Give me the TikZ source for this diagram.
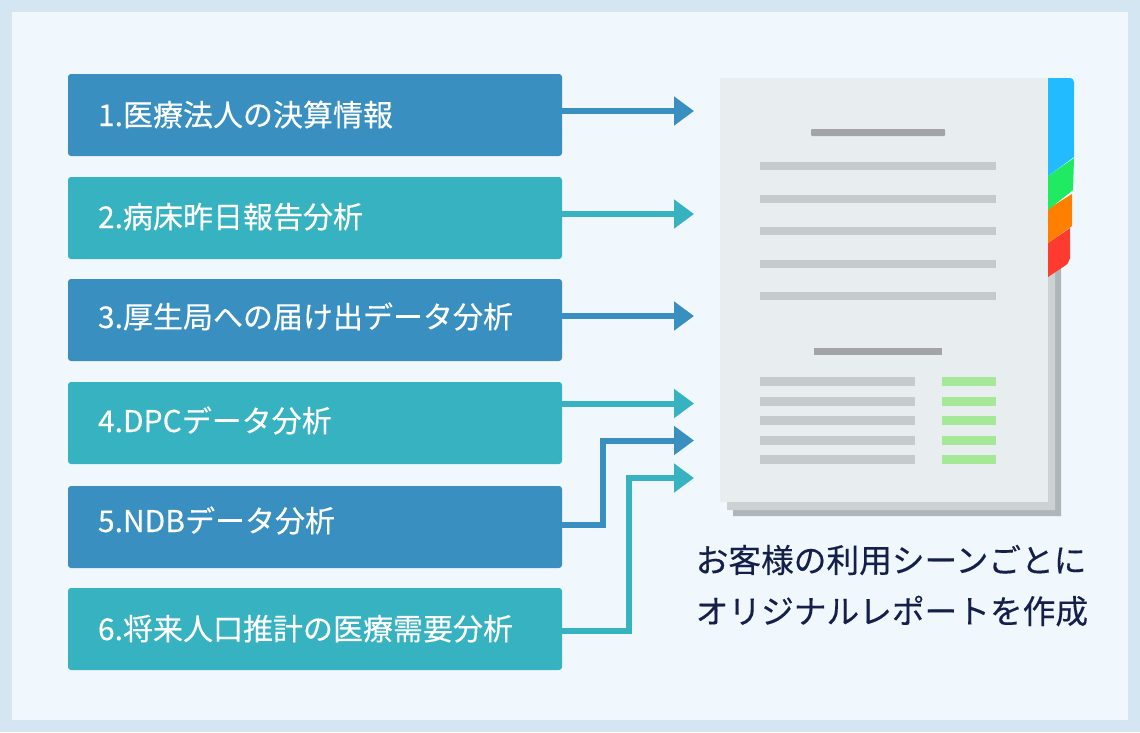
\documentclass[tikz,border=0pt]{standalone}
\usepackage{fontspec}
\setmainfont{Noto Sans CJK JP}[FakeBold=0.3]
\usetikzlibrary{arrows.meta}
\definecolor{outerbg}{HTML}{D3E6F1}
\definecolor{innerbg}{HTML}{F0F8FE}
\definecolor{boxblue}{HTML}{3990C0}
\definecolor{boxteal}{HTML}{37B2C0}
\definecolor{inkblue}{HTML}{14204A}
\definecolor{sheetfront}{HTML}{E8EEF0}
\definecolor{sheetmid}{HTML}{CCD1D2}
\definecolor{sheetback}{HTML}{AEB6BA}
\definecolor{rulegray}{HTML}{C5CBCD}
\definecolor{titlegray}{HTML}{A2A4A5}
\definecolor{rulegreen}{HTML}{A5E898}
\definecolor{tabblue}{HTML}{22BBFF}
\definecolor{tabgreen}{HTML}{1FEA62}
\definecolor{taborange}{HTML}{FF8000}
\definecolor{tabred}{HTML}{FF3B30}
\newcommand{\lifted}[2]{\raisebox{#1}[26pt][4pt]{#2}}
\tikzset{
  itembox/.style={minimum width=494pt, minimum height=82pt, rounded corners=3pt, text=white, text width=434pt, align=left, inner sep=0pt, font=\fontsize{30}{32}\selectfont},
  feed/.style={line width=6pt, -{Triangle[length=20pt,width=28pt]}},
  caption/.style={anchor=west, inner sep=0pt, text=inkblue, font=\fontsize{32.7}{34}\selectfont}
}
\begin{document}
\begin{tikzpicture}[x=1pt, y=-1pt, line join=miter]
    \useasboundingbox (0,0) rectangle (1140,732);
    \fill[outerbg] (0,0) rectangle (1140,732);
    \fill[innerbg] (12,12) rectangle (1128,720);
    % boxes
    \node[itembox, fill=boxblue] (box1) at (315,115) {\lifted{0pt}{1.医療法人の決算情報}};
    \node[itembox, fill=boxteal] (box2) at (315,218) {\lifted{1pt}{2.病床昨日報告分析}};
    \node[itembox, fill=boxblue] (box3) at (315,320) {\lifted{3pt}{3.厚生局への届け出データ分析}};
    \node[itembox, fill=boxteal] (box4) at (315,423) {\lifted{2pt}{4.DPCデータ分析}};
    \node[itembox, fill=boxblue] (box5) at (315,527) {\lifted{6pt}{5.NDBデータ分析}};
    \node[itembox, fill=boxteal] (box6) at (315,629) {\lifted{0pt}{6.将来人口推計の医療需要分析}};
    % arrows
    \coordinate (tip1) at (694,111);
    \coordinate (tip2) at (694,214);
    \coordinate (tip3) at (694,316);
    \coordinate (tip4) at (694,403.5);
    \coordinate (tip5) at (694,440.5);
    \coordinate (tip6) at (694,478);
    \coordinate (bend5) at (603,525);
    \coordinate (bend6) at (629,631);
    \draw[feed, boxblue] (box1.east |- tip1) -- (tip1);
    \draw[feed, boxteal] (box2.east |- tip2) -- (tip2);
    \draw[feed, boxblue] (box3.east |- tip3) -- (tip3);
    \draw[feed, boxteal] (box4.east |- tip4) -- (tip4);
    \draw[feed, boxblue] (box5.east |- bend5) -- (bend5) |- (tip5);
    \draw[feed, boxteal] (box6.east |- bend6) -- (bend6) |- (tip6);
    % report sheets
    \fill[sheetback] (733,270) -- (1061,262) -- (1061,516) -- (733,516) -- cycle;
    \fill[sheetmid] (727,270) -- (1055,262) -- (1055,510) -- (727,510) -- cycle;
    \fill[sheetfront] (720,78) rectangle (1048,502);
    % tabs
    \fill[tabred] (1048,243) -- (1070,228) -- (1070,259) to[out=90,in=20] (1066,265) -- (1048,277) -- cycle;
    \fill[taborange] (1048,209) -- (1072,194) -- (1072,226) -- (1048,243) -- cycle;
    \fill[tabgreen] (1048,176) -- (1074,158) -- (1073,190) -- (1048,210) -- cycle;
    \fill[tabblue] (1048,78) -- (1070,78) to[out=0,in=90] (1074,82) -- (1074,157) -- (1048,176) -- cycle;
    % sheet lines
    \fill[titlegray, rounded corners=1pt] (811,129) rectangle (945,136);
    \foreach \ry in {162,195,227,260,292}
      \fill[rulegray] (760,\ry) rectangle (996,\ry+8);
    \fill[titlegray] (814,348) rectangle (942,355);
    \foreach \ry in {377,396.5,416,435.5,455}{
      \fill[rulegray] (760,\ry) rectangle (915,\ry+9);
      \fill[rulegreen] (942,\ry) rectangle (996,\ry+9);
    }
    \node[caption] (line1) at (695.5,560) {お客様の利用シーンごとに};
    \node[caption] (line2) at (695.5,611) {オリジナルレポートを作成};
\end{tikzpicture}
\end{document}
